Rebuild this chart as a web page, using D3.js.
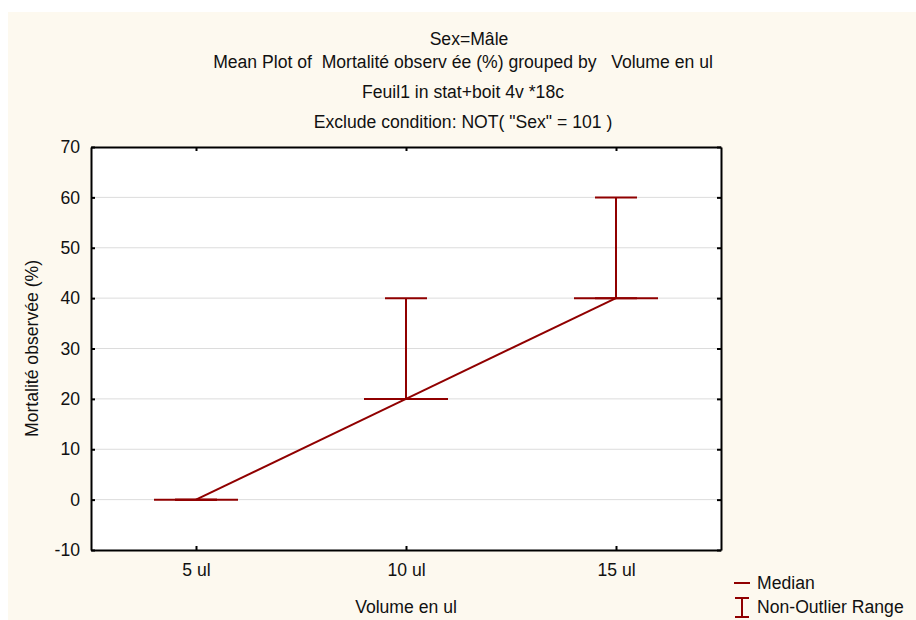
<!DOCTYPE html>
<html>
<head>
<meta charset="utf-8">
<script src="https://cdn.jsdelivr.net/npm/d3@7"></script>
<style>
  body { margin: 0; background: #fff; }
  text { font-family: "Liberation Sans", Arial, sans-serif; fill: #111; white-space: pre; }
</style>
</head>
<body>
<div id="chart"></div>
<script>
// data
var categories = ["5 ul", "10 ul", "15 ul"];
var medians = [0, 20, 40];
var rangeLow = [0, 20, 40];
var rangeHigh = [0, 40, 60];
var yTicks = [-10, 0, 10, 20, 30, 40, 50, 60, 70];
var titles = ["Sex=Mâle",
    "Mean Plot of  Mortalité observ ée (%) grouped by   Volume en ul",
    "Feuil1 in stat+boit 4v *18c",
    "Exclude condition: NOT( \"Sex\" = 101 )"];

var width = 916, height = 620;
var red = "#900000";
var fontSize = "17.6px";
var plot = { left: 91, right: 721, top: 147, bottom: 550 };

var svg = d3.select("#chart").append("svg")
    .attr("width", width)
    .attr("height", height);

// cream background
svg.append("rect").attr("x", 8).attr("y", 12)
    .attr("width", width - 8).attr("height", height - 12)
    .attr("fill", "#fdf9ef");

svg.append("rect").attr("x", plot.left).attr("y", plot.top)
    .attr("width", plot.right - plot.left).attr("height", plot.bottom - plot.top)
    .attr("fill", "#fff");

var x = d3.scalePoint().domain(categories).range([plot.left, plot.right]).padding(0.5);
var y = d3.scaleLinear().domain([-10, 70]).range([plot.bottom, plot.top]);

// gridlines
svg.append("g").selectAll("line").data(yTicks.slice(1, -1)).enter().append("line")
    .attr("x1", plot.left).attr("x2", plot.right)
    .attr("y1", function (d) { return y(d); }).attr("y2", function (d) { return y(d); })
    .attr("stroke", "#dcdcdc").attr("stroke-width", 1);

// titles
var titleY = [45, 68, 98, 128];
svg.selectAll("text.title").data(titles).enter().append("text")
    .attr("class", "title")
    .attr("x", function (d, i) { return i == 0 ? 469 : 463; })
    .attr("y", function (d, i) { return titleY[i]; })
    .attr("text-anchor", "middle")
    .style("font-size", fontSize)
    .text(function (d) { return d; });

// axes, ticks pointing inward
var leftAxis = d3.axisLeft(y).tickValues(yTicks).tickSizeInner(-4).tickSizeOuter(0).tickPadding(11)
    .tickFormat(function (d) { return String(d); });
var rightAxis = d3.axisRight(y).tickValues(yTicks).tickSizeInner(-4).tickSizeOuter(0).tickFormat("");
var bottomAxis = d3.axisBottom(x).tickSizeInner(-4).tickSizeOuter(0).tickPadding(14);
var topAxis = d3.axisTop(x).tickSizeInner(-4).tickSizeOuter(0).tickFormat("");

function styleAxis(g) {
    g.select(".domain").attr("stroke", "#000").attr("stroke-width", 2);
    g.selectAll(".tick line").attr("stroke", "#000").attr("stroke-width", 2);
    g.selectAll(".tick text").style("font-size", fontSize).attr("fill", "#111")
        .attr("font-family", "Liberation Sans, Arial, sans-serif");
}

svg.append("g").attr("transform", "translate(" + plot.left + ",0)").call(leftAxis).call(styleAxis);
svg.append("g").attr("transform", "translate(" + plot.right + ",0)").call(rightAxis).call(styleAxis);
svg.append("g").attr("transform", "translate(0," + plot.bottom + ")").call(bottomAxis).call(styleAxis);
svg.append("g").attr("transform", "translate(0," + plot.top + ")").call(topAxis).call(styleAxis);

// axis titles
svg.append("text").attr("x", (plot.left + plot.right) / 2).attr("y", 613)
    .attr("text-anchor", "middle").style("font-size", fontSize).text("Volume en ul");
svg.append("text")
    .attr("transform", "translate(38," + ((plot.top + plot.bottom) / 2) + ") rotate(-90)")
    .attr("text-anchor", "middle").style("font-size", fontSize).text("Mortalité observée (%)");

// median line through groups
var line = d3.line()
    .x(function (d, i) { return x(categories[i]); })
    .y(function (d) { return y(d); });
svg.append("path").datum(medians).attr("d", line)
    .attr("fill", "none").attr("stroke", red).attr("stroke-width", 2);

var marks = svg.append("g").selectAll("g").data(categories).enter().append("g");

// non-outlier range whiskers
marks.append("line")
    .attr("x1", function (d) { return x(d); }).attr("x2", function (d) { return x(d); })
    .attr("y1", function (d, i) { return y(rangeLow[i]); })
    .attr("y2", function (d, i) { return y(rangeHigh[i]); })
    .attr("stroke", red).attr("stroke-width", 2);
marks.append("line")
    .attr("x1", function (d) { return x(d) - 21; }).attr("x2", function (d) { return x(d) + 21; })
    .attr("y1", function (d, i) { return y(rangeHigh[i]); })
    .attr("y2", function (d, i) { return y(rangeHigh[i]); })
    .attr("stroke", red).attr("stroke-width", 2);
marks.append("line")
    .attr("x1", function (d) { return x(d) - 21; }).attr("x2", function (d) { return x(d) + 21; })
    .attr("y1", function (d, i) { return y(rangeLow[i]); })
    .attr("y2", function (d, i) { return y(rangeLow[i]); })
    .attr("stroke", red).attr("stroke-width", 2);

// median ticks
marks.append("line")
    .attr("x1", function (d) { return x(d) - 42; }).attr("x2", function (d) { return x(d) + 42; })
    .attr("y1", function (d, i) { return y(medians[i]); })
    .attr("y2", function (d, i) { return y(medians[i]); })
    .attr("stroke", red).attr("stroke-width", 2);

// legend
var legend = svg.append("g");
legend.append("line").attr("x1", 734).attr("x2", 750).attr("y1", 583).attr("y2", 583)
    .attr("stroke", red).attr("stroke-width", 2);
legend.append("text").attr("x", 757).attr("y", 589).style("font-size", fontSize).text("Median");
legend.append("line").attr("x1", 742).attr("x2", 742).attr("y1", 598).attr("y2", 617)
    .attr("stroke", red).attr("stroke-width", 2);
legend.append("line").attr("x1", 735).attr("x2", 749).attr("y1", 598).attr("y2", 598)
    .attr("stroke", red).attr("stroke-width", 2);
legend.append("line").attr("x1", 735).attr("x2", 749).attr("y1", 617).attr("y2", 617)
    .attr("stroke", red).attr("stroke-width", 2);
legend.append("text").attr("x", 757).attr("y", 613).style("font-size", fontSize).text("Non-Outlier Range");
</script>
</body>
</html>
